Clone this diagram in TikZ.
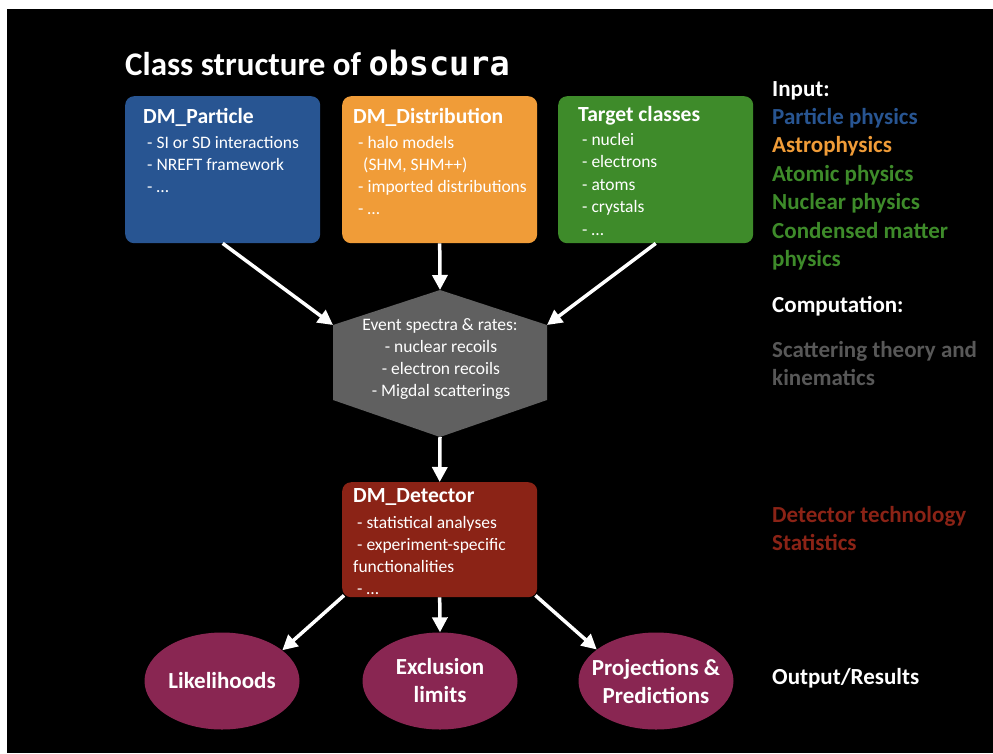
\documentclass[tikz,border=0pt]{standalone}
\usepackage{fontspec}
\setmainfont{Carlito}
\newfontfamily\monob{DejaVu Sans Mono}
\usetikzlibrary{arrows.meta,calc,shapes.geometric}
\definecolor{cblue}{RGB}{40,85,146}
\definecolor{corange}{RGB}{240,156,56}
\definecolor{cgreen}{RGB}{62,139,42}
\definecolor{cgray}{RGB}{96,96,96}
\definecolor{cgraytxt}{RGB}{88,88,88}
\definecolor{cred}{RGB}{139,35,22}
\definecolor{cplum}{RGB}{137,38,82}
\tikzset{
  box/.style={rounded corners=9pt, inner sep=0pt, anchor=north west, minimum width=195pt},
  head/.style={font=\fontsize{21.6}{25}\selectfont\bfseries, text=white, anchor=base west, inner sep=0pt},
  body/.style={font=\fontsize{17.5}{22}\selectfont, text=white, anchor=base west, inner sep=0pt},
  hexline/.style={font=\fontsize{17.5}{22}\selectfont, text=white, anchor=base, inner sep=0pt},
  side/.style={font=\fontsize{23}{28}\selectfont\bfseries, anchor=base west, inner sep=0pt},
  arr/.style={white, line width=3.5pt, -{Triangle[length=15pt,width=15pt]}},
  oval/.style={ellipse, fill=cplum, minimum width=155pt, minimum height=97pt, inner sep=0pt,
    text=white, font=\fontsize{23}{28}\selectfont\bfseries, align=center}
}
\begin{document}
\begin{tikzpicture}[x=1pt,y=-1pt]
\path[use as bounding box, fill=white] (0,0) rectangle (993,753);
\fill[black] (7,9) rectangle (993,753);

% title
\node[anchor=base west, inner sep=0pt, font=\fontsize{33}{38}\selectfont\bfseries, text=white] (title) at (125,75)
  {Class structure of {\monob\fontsize{33.5}{38}\selectfont\bfseries obscura}};

% input boxes
\node[box, fill=cblue, minimum height=147pt] (p) at (125,96) {};
\node[box, fill=corange, minimum height=147pt] (d) at (342,96) {};
\node[box, fill=cgreen, minimum height=147pt] (t) at (558,96) {};

\node[head] (p0) at (143,123) {DM\_Particle};
\node[body] (p1) at (147,148.5) {- SI or SD interactions};
\node[body] (p2) at (147,170.5) {- NREFT framework};
\node[body] (p3) at (147,192.5) {- …};

\node[head] (d0) at (353,123) {DM\_Distribution};
\node[body] (d1) at (358,148) {- halo models};
\node[body] (d2) at (363,170) {(SHM, SHM++)};
\node[body] (d3) at (358,192) {- imported distributions};
\node[body] (d4) at (358,214) {- …};

\node[head] (t0) at (578,121) {Target classes};
\node[body] (t1) at (582,145) {- nuclei};
\node[body] (t2) at (582,167.5) {- electrons};
\node[body] (t3) at (582,190) {- atoms};
\node[body] (t4) at (582,212.5) {- crystals};
\node[body] (t5) at (582,235) {- …};

% hexagon
\coordinate (hT) at (440,290);
\coordinate (hR) at (547,325);
\coordinate (hR2) at (547,400);
\coordinate (hB) at (440,437);
\coordinate (hL2) at (333,400);
\coordinate (hL) at (333,325);
\fill[cgray] (hT) -- (hR) -- (hR2) -- (hB) -- (hL2) -- (hL) -- cycle;
\node[hexline] (h0) at (440,330) {Event spectra \& rates:};
\node[hexline] (h1) at (441,352) {- nuclear recoils};
\node[hexline] (h2) at (441,374) {- electron recoils};
\node[hexline] (h3) at (441,396) {- Migdal scatterings};

% detector
\node[box, fill=cred, minimum height=115pt] (det) at (342,482) {};
\node[head] (e0) at (353,502) {DM\_Detector};
\node[body] (e1) at (357,528) {- statistical analyses};
\node[body] (e2) at (357,550) {- experiment-specific};
\node[body] (e3) at (353,572) {functionalities};
\node[body] (e4) at (357,594) {- …};

% outputs
\node[oval] (lik) at (222,681) {Likelihoods};
\node[oval] (exc) at (440,681) {Exclusion\\limits};
\node[oval, inner xsep=-10pt] (proj) at (656,681) {Projections \&\\Predictions};

% arrows
\draw[arr] (p.south) -- (hL);
\draw[arr] (d.south) -- (hT);
\draw[arr] (t.south) -- (hR);
\draw[arr] (hB) -- (det.north);
\draw[arr] ($(det.south west)+(2,-2)$) -- (lik.27);
\draw[arr] (det.south) -- (exc.north);
\draw[arr] ($(det.south east)+(-2,-2)$) -- (proj.152);

% side labels
\node[side, text=white] (s0) at (772,96) {Input:};
\node[side, text=cblue] (s1) at (772,124.4) {Particle physics};
\node[side, text=corange] (s2) at (772,152.8) {Astrophysics};
\node[side, text=cgreen] (s3) at (772,181.2) {Atomic physics};
\node[side, text=cgreen] (s4) at (772,209.6) {Nuclear physics};
\node[side, text=cgreen] (s5) at (772,238) {Condensed matter};
\node[side, text=cgreen] (s6) at (772,266.4) {physics};
\node[side, text=white] (s7) at (772,312) {Computation:};
\node[side, text=cgraytxt] (s8) at (772,357) {Scattering theory and};
\node[side, text=cgraytxt] (s9) at (772,385) {kinematics};
\node[side, text=cred] (s10) at (772,522) {Detector technology};
\node[side, text=cred] (s11) at (772,550) {Statistics};
\node[side, text=white] (s12) at (772,684) {Output/Results};
\end{tikzpicture}
\end{document}
